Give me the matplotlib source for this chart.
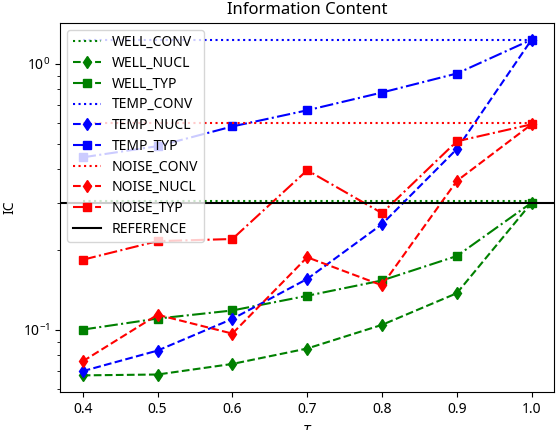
import matplotlib
matplotlib.use("Agg")
import matplotlib.pyplot as plt

plt.rcParams['font.family'] = ['Noto Sans', 'DejaVu Sans']

tau = [0.4, 0.5, 0.6, 0.7, 0.8, 0.9, 1.0]

well_conv = 0.305
temp_conv = 1.23
noise_conv = 0.596
reference = 0.3

well_nucl = [0.0673, 0.0678, 0.0743, 0.0849, 0.1042, 0.137, 0.3]
well_typ = [0.100, 0.110, 0.118, 0.134, 0.153, 0.189, 0.3]
temp_nucl = [0.0698, 0.0834, 0.1097, 0.155, 0.249, 0.477, 1.23]
temp_typ = [0.444, 0.489, 0.58, 0.667, 0.778, 0.917, 1.23]
noise_nucl = [0.076, 0.1137, 0.0966, 0.187, 0.1467, 0.362, 0.591]
noise_typ = [0.183, 0.215, 0.219, 0.397, 0.274, 0.51, 0.591]

fig, ax = plt.subplots(figsize=(5.58, 4.30), dpi=100)

ax.plot(tau, [well_conv] * len(tau), ':', color='green', label='WELL_CONV')
ax.plot(tau, well_nucl, '--', marker='d', color='green', label='WELL_NUCL')
ax.plot(tau, well_typ, '-.', marker='s', color='green', label='WELL_TYP')
ax.plot(tau, [temp_conv] * len(tau), ':', color='blue', label='TEMP_CONV')
ax.plot(tau, temp_nucl, '--', marker='d', color='blue', label='TEMP_NUCL')
ax.plot(tau, temp_typ, '-.', marker='s', color='blue', label='TEMP_TYP')
ax.plot(tau, [noise_conv] * len(tau), ':', color='red', label='NOISE_CONV')
ax.plot(tau, noise_nucl, '--', marker='d', color='red', label='NOISE_NUCL')
ax.plot(tau, noise_typ, '-.', marker='s', color='red', label='NOISE_TYP')
ax.axhline(reference, color='black', label='REFERENCE')

ax.set_yscale('log')
ax.set_title('Information Content')
ax.set_xlabel(r'$\tau$')
ax.set_ylabel('IC')
ax.legend(loc='upper left', labelspacing=0.41)

fig.subplots_adjust(left=0.108, right=0.993, top=0.947, bottom=0.088)
fig.savefig('out.png', dpi=100)
